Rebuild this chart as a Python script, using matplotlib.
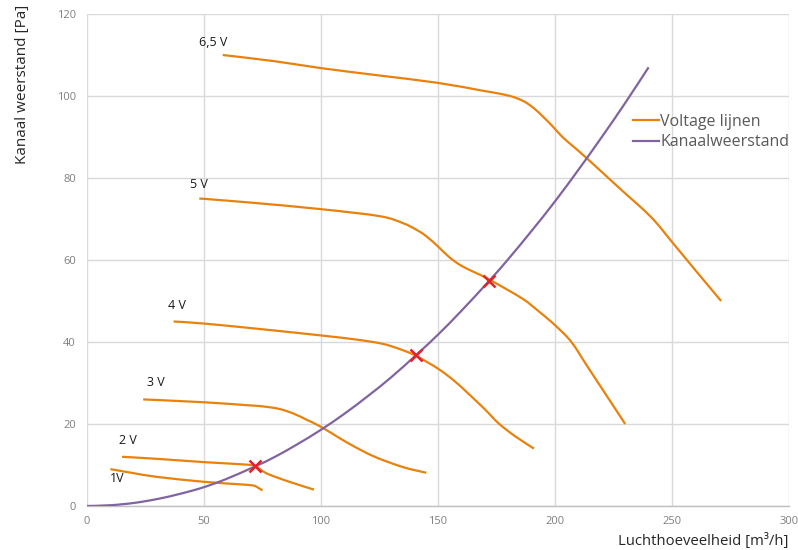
import matplotlib
matplotlib.use("Agg")
import matplotlib.pyplot as plt
from matplotlib.path import Path
from matplotlib.patches import PathPatch
from matplotlib.lines import Line2D

# ---- data ----
v65_x = [58, 80, 100, 125, 150, 168, 176, 182, 187, 191, 195, 199, 203, 208, 214, 227, 241, 250, 260, 271]
v65_y = [110, 108.5, 106.8, 105, 103.2, 101.4, 100.6, 99.8, 98.6, 97, 94.9, 92.6, 90.1, 87.6, 84.6, 77.8, 70.5, 64.4, 57.5, 50]

v5_x = [48, 70, 100, 125, 135, 141, 145, 150, 155, 160, 166, 172, 186, 193, 200, 207, 214, 221.5, 230]
v5_y = [75, 74, 72.4, 70.7, 69, 67.3, 65.8, 63.3, 60.6, 58.6, 56.9, 55.2, 50.6, 47.5, 44.1, 40, 33.9, 27.4, 20]

v4_x = [37, 50, 75, 100, 115, 126, 133, 140, 150, 157, 163, 170, 176, 183, 191]
v4_y = [45, 44.5, 43.1, 41.6, 40.6, 39.6, 38.4, 36.8, 33.5, 30.5, 27.4, 23.6, 20.1, 17, 14]

v3_x = [24, 50, 68, 75, 82, 88, 94, 100, 112, 123, 135, 145]
v3_y = [26, 25.3, 24.6, 24.3, 23.7, 22.6, 21, 19.3, 15.2, 12, 9.5, 8.1]

v2_x = [15, 30, 50, 68, 72, 77, 86.5, 97]
v2_y = [12, 11.5, 10.7, 10.1, 9.7, 7.9, 5.9, 4]

v1_x = [10, 20, 30, 50, 65, 71, 73, 75]
v1_y = [9, 8, 7.1, 5.9, 5.3, 5.0, 4.5, 3.8]

kw_x = [0, 10, 20, 30, 40, 50, 60, 72, 80, 90, 100, 110, 120, 130, 141, 150, 160, 172, 180, 190, 200, 210, 220, 230, 240]
kw_y = [0, 0.19, 0.74, 1.7, 3.0, 4.6, 6.7, 9.7, 11.9, 15.1, 18.6, 22.5, 26.8, 31.4, 37, 41.8, 47.6, 55, 60.2, 67.1, 74.3, 82, 90, 98.3, 107]

cross_x = [72, 140.5, 172]
cross_y = [9.7, 36.9, 55]

label_text = ["6,5 V", "5 V", "4 V", "3 V", "2 V", "1V"]
label_x = [54, 48, 38.5, 29.5, 17.5, 13]
label_y = [113, 78.5, 49, 30, 16, 6.8]

x_ticks = [0, 50, 100, 150, 200, 250, 300]
y_ticks = [0, 20, 40, 60, 80, 100, 120]

series_names = ['Voltage lijnen', 'Kanaalweerstand']

# ---- style ----
plt.rcParams['font.family'] = ['Open Sans', 'DejaVu Sans']
ORANGE = '#E8820C'
PURPLE = '#8064A2'
GRID = '#D9D9D9'
LW = 1.6


def smooth_path(xs, ys):
    """Cubic Bezier path through the given points (Catmull-Rom tangents)."""
    pts = list(zip(xs, ys))
    verts = [pts[0]]
    codes = [Path.MOVETO]
    n = len(pts)
    for i in range(n - 1):
        p0 = pts[i - 1] if i > 0 else pts[i]
        p1 = pts[i]
        p2 = pts[i + 1]
        p3 = pts[i + 2] if i + 2 < n else pts[i + 1]
        c1 = (p1[0] + (p2[0] - p0[0]) / 6.0, p1[1] + (p2[1] - p0[1]) / 6.0)
        c2 = (p2[0] - (p3[0] - p1[0]) / 6.0, p2[1] - (p3[1] - p1[1]) / 6.0)
        verts += [c1, c2, p2]
        codes += [Path.CURVE4, Path.CURVE4, Path.CURVE4]
    return Path(verts, codes)


fig = plt.figure(figsize=(7.98, 5.5), dpi=100)
ax = fig.add_axes([87/798, 1-506/550, (789-87)/798, (506-14)/550])

ax.set_xlim(0, 300)
ax.set_ylim(0, 120)
ax.set_xticks(x_ticks)
ax.set_yticks(y_ticks)
ax.grid(True, color=GRID, linewidth=1.0)
ax.set_axisbelow(True)
for s in ['top', 'right', 'left']:
    ax.spines[s].set_visible(False)
ax.spines['bottom'].set_color('#BFBFBF')
ax.spines['bottom'].set_linewidth(1.0)
ax.tick_params(length=0, labelsize=8, labelcolor='#7F7F7F')
ax.tick_params(axis='y', pad=8)
ax.tick_params(axis='x', pad=7)

for xs, ys in [(v65_x, v65_y), (v5_x, v5_y), (v4_x, v4_y), (v3_x, v3_y), (v2_x, v2_y), (v1_x, v1_y)]:
    ax.add_patch(PathPatch(smooth_path(xs, ys), facecolor='none', edgecolor=ORANGE,
                           linewidth=LW, capstyle='butt', zorder=3))
ax.add_patch(PathPatch(smooth_path(kw_x, kw_y), facecolor='none', edgecolor=PURPLE,
                       linewidth=LW, zorder=3))

ax.plot(cross_x, cross_y, linestyle='none', marker='x', markersize=9,
        markeredgewidth=1.8, color='#E8202A', zorder=5)

for t, x, y in zip(label_text, label_x, label_y):
    ax.text(x, y, t, fontsize=9, color='#1A1A1A', ha='center', va='center')

fig.text(23/798, 1-84/550, 'Kanaal weerstand [Pa]', rotation=90, ha='center', va='center',
         fontsize=11, color='#262626')
fig.text(789/798, 1-541/550, 'Luchthoeveelheid [m\u00b3/h]', ha='right', va='center',
         fontsize=10.7, color='#262626')

handles = [Line2D([], [], color=ORANGE, linewidth=LW), Line2D([], [], color=PURPLE, linewidth=LW)]
leg = fig.legend(handles, series_names, loc='upper left', bbox_to_anchor=(633/798, 1-114/550),
                 frameon=False, fontsize=11.5, handlelength=1.6, handletextpad=0.1, borderpad=0,
                 borderaxespad=0, labelspacing=0.28)
for txt in leg.get_texts():
    txt.set_color('#595959')

fig.savefig('out.png', dpi=100)
